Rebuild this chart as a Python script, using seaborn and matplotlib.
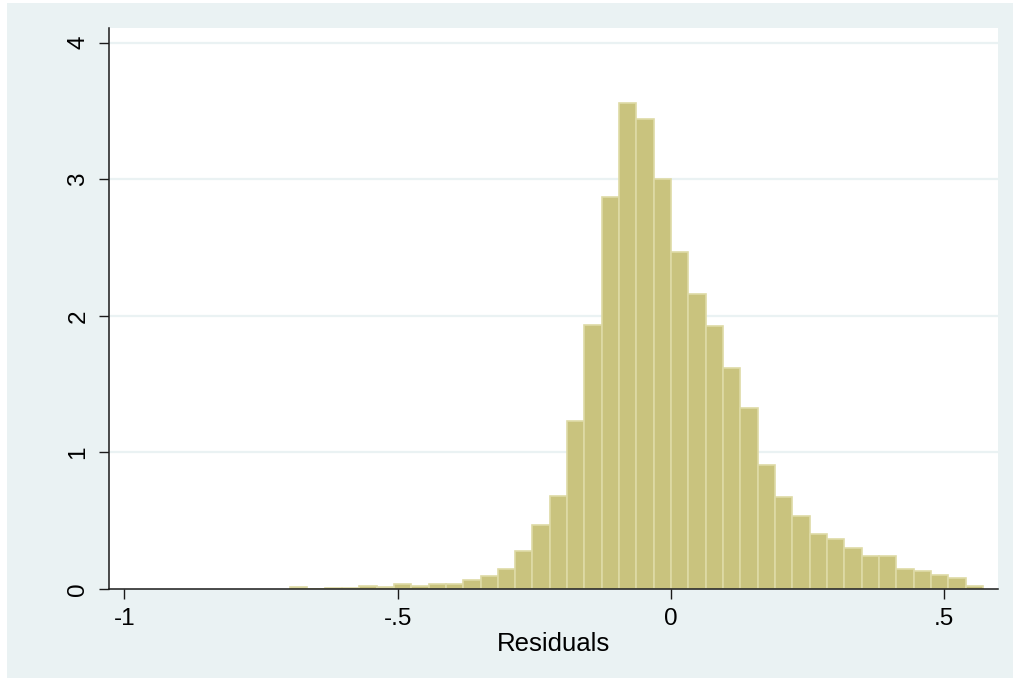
import numpy as np
import pandas as pd
import matplotlib
matplotlib.use("Agg")
import matplotlib.pyplot as plt
from matplotlib.patches import Rectangle
import seaborn as sns

# ---- data ----
bin_start = -0.697
bin_width = 0.0317
density = [0.013, 0.0, 0.005, 0.005, 0.02, 0.012, 0.04, 0.02, 0.037, 0.04,
           0.064, 0.097, 0.15, 0.28, 0.47, 0.683, 1.232, 1.930, 2.867, 3.558,
           3.441, 3.001, 2.470, 2.160, 1.928, 1.618, 1.325, 0.905, 0.676, 0.537,
           0.403, 0.364, 0.302, 0.244, 0.244, 0.144, 0.130, 0.100, 0.078, 0.022]
xticks = [-1, -0.5, 0, 0.5]
xtick_labels = ["-1", "-.5", "0", ".5"]
yticks = [0, 1, 2, 3, 4]
ytick_labels = ["0", "1", "2", "3", "4"]
x_label = "Residuals"

n = len(density)
bin_end = bin_start + bin_width * n
centers = bin_start + bin_width * (np.arange(n) + 0.5)
df = pd.DataFrame({"resid": centers, "dens": density})

sns.set_style("white")
plt.rcParams["font.family"] = ["Liberation Sans", "DejaVu Sans"]

bg = "#EAF2F3"
W, H = 1013, 679
fig = plt.figure(figsize=(W / 100, H / 100), dpi=100, facecolor="white")
fig.add_artist(Rectangle((7 / W, 1 / H), 1 - 7 / W, 1 - 4 / H,
                         transform=fig.transFigure, facecolor=bg,
                         edgecolor="none", zorder=-10))
ax = fig.add_axes([0.1073, 0.1325, 0.8782, 0.8263])
ax.set_zorder(5)
ax.set_facecolor("white")

sns.histplot(data=df, x="resid", weights="dens", bins=n,
             binrange=(bin_start, bin_end), stat="count",
             color="#C9C37E", edgecolor="#DEDAA6", linewidth=1.2, alpha=1,
             ax=ax, zorder=3)

ax.set_xlim(-1.0285, 0.599)
ax.set_ylim(0, 4.107)
ax.set_xticks(xticks)
ax.set_xticklabels(xtick_labels)
ax.set_yticks(yticks)
ax.set_yticklabels(ytick_labels, rotation=90, va="center")

for yv in yticks[1:]:
    ax.axhline(yv, color=bg, lw=1.6, zorder=1)

for s in ["top", "right"]:
    ax.spines[s].set_visible(False)
for s in ["left", "bottom"]:
    ax.spines[s].set_color("#1a1a1a")
    ax.spines[s].set_linewidth(1.1)
    ax.spines[s].set_zorder(4)

ax.tick_params(axis="both", which="major", direction="out", length=7,
               width=1, color="#1a1a1a", labelsize=17.5, pad=7, labelcolor="black")
ax.tick_params(axis="x", bottom=True)
ax.tick_params(axis="y", left=True)

ax.set_xlabel(x_label, fontsize=18.5, labelpad=1, color="black")
ax.set_ylabel("")

fig.savefig("out.png", dpi=100, facecolor="white")
